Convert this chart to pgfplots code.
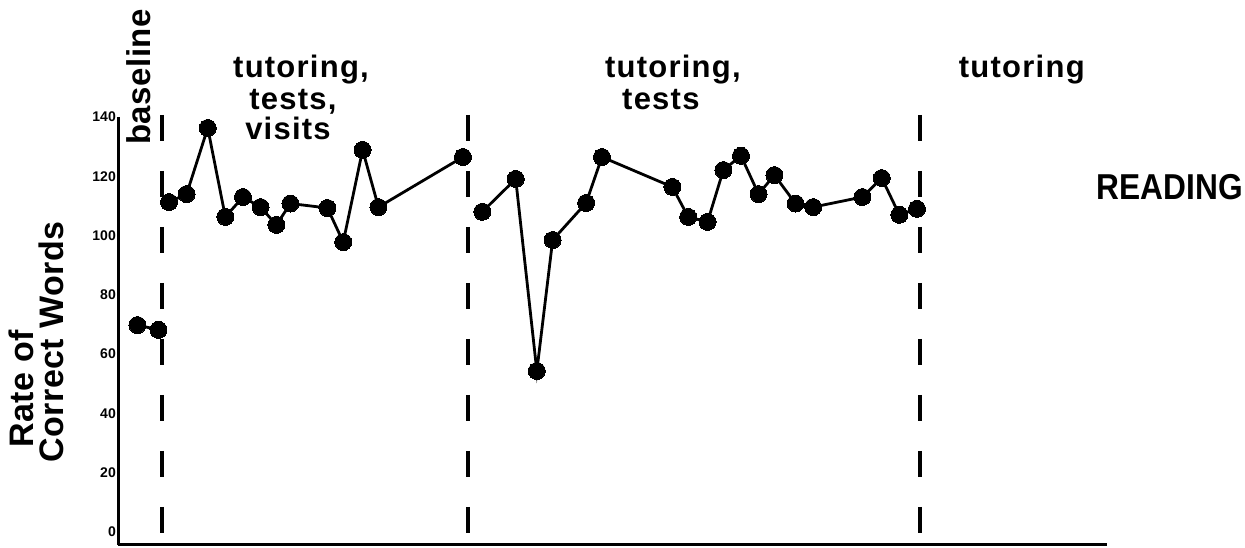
\documentclass[border=0pt]{standalone}
\usepackage{fontspec}
\setmainfont{Liberation Sans}
\newfontfamily\labfont[LetterSpace=1.5]{Liberation Sans Bold}
\newfontfamily\phasefont[LetterSpace=4]{Liberation Sans Bold}
\usepackage{pgfplots}
\pgfplotsset{compat=1.18}
\begin{document}
\begin{tikzpicture}
\useasboundingbox (0,0) rectangle (1245pt,548pt);
\begin{axis}[
  at={(118pt,3pt)}, anchor=south west,
  width=989pt, height=428pt, scale only axis,
  xmin=0, xmax=56.2, ymin=-4.4, ymax=140,
  axis x line=bottom, axis y line=left,
  axis line style={line width=3pt, -},
  xtick=\empty,
  ytick={0,20,...,140},
  major tick length=0pt,
  /pgf/number format/assume math mode=true,
  yticklabel style={font=\bfseries\fontsize{14}{14}\selectfont, inner sep=2pt},
  clip=false,
]
% phase change lines
\addplot[black, line width=4pt, dash pattern=on 26pt off 30pt] coordinates {(2.5,140.7) (2.5,-4.4)};
\addplot[black, line width=4pt, dash pattern=on 26pt off 30pt] coordinates {(19.89,140.7) (19.89,-4.4)};
\addplot[black, line width=4pt, dash pattern=on 26pt off 30pt] coordinates {(45.57,140.7) (45.57,-4.4)};
% baseline
\addplot[black, line width=2.8pt, mark=*, mark size=8.5pt, mark options={fill=black, line width=0pt}]
coordinates {(1.1,69.8) (2.3,68.2)};
% tutoring, tests, visits
\addplot[black, line width=2.8pt, mark=*, mark size=8.5pt, mark options={fill=black, line width=0pt}]
coordinates {(2.9,111.3) (3.9,114.0) (5.1,136.3) (6.1,106.3) (7.1,113.0) (8.1,109.6) (9.0,103.6) (9.8,110.8) (11.9,109.3) (12.8,97.8) (13.9,128.9) (14.8,109.6) (19.6,126.5)};
% tutoring, tests
\addplot[black, line width=2.8pt, mark=*, mark size=8.5pt, mark options={fill=black, line width=0pt}]
coordinates {(20.7,108.0) (22.6,119.1) (23.8,54.3) (24.7,98.5) (26.6,111.0) (27.5,126.5) (31.5,116.4) (32.4,106.3) (33.5,104.6) (34.4,122.1) (35.4,126.9) (36.4,114.0) (37.3,120.4) (38.5,110.8) (39.5,109.6) (42.3,113.0) (43.4,119.4) (44.4,107.0) (45.4,109.0)};
% texts
\node[font=\labfont\fontsize{33}{33}\selectfont, rotate=90, anchor=base west, inner sep=0pt] at (axis cs:1.82,130.6) {baseline};
\node[font=\phasefont\fontsize{31}{31}\selectfont, anchor=base, inner sep=0pt] at (axis cs:10.40,153.2) {tutoring,};
\node[font=\phasefont\fontsize{31}{31}\selectfont, anchor=base, inner sep=0pt] at (axis cs:9.94,142.4) {tests,};
\node[font=\phasefont\fontsize{31}{31}\selectfont, anchor=base, inner sep=0pt] at (axis cs:9.66,132.3) {visits};
\node[font=\phasefont\fontsize{31}{31}\selectfont, anchor=base, inner sep=0pt] at (axis cs:31.53,153.2) {tutoring,};
\node[font=\phasefont\fontsize{31}{31}\selectfont, anchor=base, inner sep=0pt] at (axis cs:30.85,142.4) {tests};
\node[font=\phasefont\fontsize{31}{31}\selectfont, anchor=base, inner sep=0pt] at (axis cs:51.36,153.2) {tutoring};
\node[font=\bfseries\fontsize{36}{36}\selectfont, anchor=base, inner sep=0pt, xscale=0.88] at (axis cs:59.77,112.0) {READING};
\node[font=\labfont\fontsize{34}{34}\selectfont, rotate=90, anchor=base west, inner sep=0pt] at (axis cs:-4.83,28.3) {Rate of};
\node[font=\labfont\fontsize{34}{34}\selectfont, rotate=90, anchor=base west, inner sep=0pt] at (axis cs:-3.125,23.3) {Correct Words};
\end{axis}
\end{tikzpicture}
\end{document}
